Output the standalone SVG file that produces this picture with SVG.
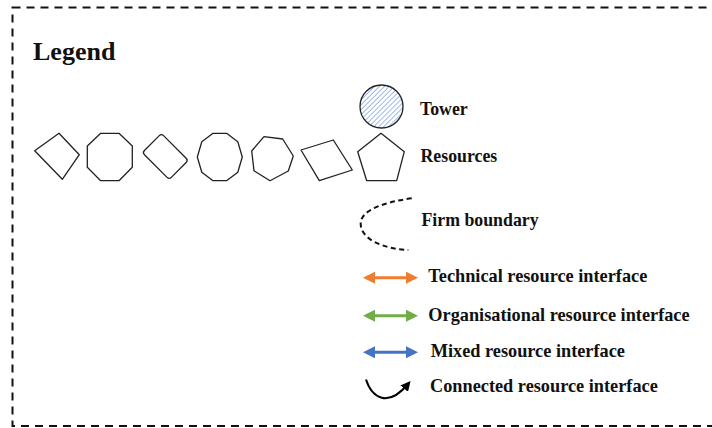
<svg xmlns="http://www.w3.org/2000/svg" width="712" height="428" viewBox="0 0 712 428">
<style>
  .lbl { font-family: "Liberation Serif", "Times New Roman", serif; font-weight: bold; font-size: 17.8px; fill: #111; }
  .if { font-size: 18.3px; }
  .shape { fill: #fff; stroke: #222; stroke-width: 1.3; stroke-linejoin: round; }
</style>
<defs>
  <pattern id="hatch" patternUnits="userSpaceOnUse" width="3.5" height="3.5" patternTransform="rotate(45)">
    <rect width="3.5" height="3.5" fill="#fff"/>
    <line x1="0" y1="0" x2="0" y2="3.5" stroke="#6f93d8" stroke-width="1.3"/>
  </pattern>
  <marker id="hO" markerWidth="4" markerHeight="4" refX="2" refY="2" orient="auto-start-reverse" markerUnits="strokeWidth" viewBox="0 0 4 4">
    <path d="M0,0 L4,2 L0,4 Z" fill="#ED7D31"/>
  </marker>
  <marker id="hG" markerWidth="4" markerHeight="4" refX="2" refY="2" orient="auto-start-reverse" markerUnits="strokeWidth" viewBox="0 0 4 4">
    <path d="M0,0 L4,2 L0,4 Z" fill="#70AD47"/>
  </marker>
  <marker id="hB" markerWidth="4" markerHeight="4" refX="2" refY="2" orient="auto-start-reverse" markerUnits="strokeWidth" viewBox="0 0 4 4">
    <path d="M0,0 L4,2 L0,4 Z" fill="#4472C4"/>
  </marker>
  <marker id="hK" markerWidth="5" markerHeight="5" refX="3" refY="2.5" orient="auto" markerUnits="strokeWidth" viewBox="0 0 5 5">
    <path d="M0,0 L5,2.5 L0,5 Z" fill="#000"/>
  </marker>
</defs>

<rect x="12.5" y="7.5" width="800" height="418.5" fill="#fff" stroke="#111" stroke-width="2" stroke-dasharray="8,6"/>

<text class="lbl" x="33" y="60" style="font-size:26px">Legend</text>

<g id="node-tower">
  <circle cx="381.5" cy="106.5" r="21.5" fill="url(#hatch)" stroke="#222" stroke-width="1.3"/>
  <text class="lbl" x="420" y="115">Tower</text>
</g>

<g id="node-resources">
  <polygon class="shape" points="34.7,150.7 59,133.3 79.3,154.7 62.3,179.3"/>
  <polygon class="shape" points="100.7,133.3 119,133.3 132.3,146 132.3,167.3 119,180.7 100.7,180.7 87.3,167.3 87.3,146"/>
  <rect class="shape" x="146.3" y="143" width="38" height="27" rx="3" transform="rotate(45 165.3 156.5)"/>
  <polygon class="shape" points="213,133.3 226.6,133.3 237.8,141.8 242.3,157 237.8,172.2 226.6,180.7 213,180.7 201.8,172.2 197.3,157 201.8,141.8"/>
  <polygon class="shape" points="251.7,151 264,136.7 282.7,139 293.3,156 288.3,171 270,180.7 254,170.7"/>
  <polygon class="shape" points="301,150 333.3,140 352.3,170 319.3,180.7"/>
  <polygon class="shape" points="381,133.3 404.3,151.7 396.7,180.7 366.7,180.7 357.7,151.7"/>
  <text class="lbl" x="420.5" y="162.3">Resources</text>
</g>

<g id="node-firm-boundary">
  <path d="M411.7,198.3 C385,202 360,210 360.7,224 C361,240 385,249 408.3,250" fill="none" stroke="#111" stroke-width="2" stroke-dasharray="5,3.5"/>
  <text class="lbl" x="421.5" y="225.7">Firm boundary</text>
</g>

<g id="connectors">
  <line x1="369" y1="277.7" x2="412" y2="277.7" stroke="#ED7D31" stroke-width="3" marker-start="url(#hO)" marker-end="url(#hO)"/>
  <line x1="369" y1="315.7" x2="412" y2="315.7" stroke="#70AD47" stroke-width="3" marker-start="url(#hG)" marker-end="url(#hG)"/>
  <line x1="369" y1="352.3" x2="412" y2="352.3" stroke="#4472C4" stroke-width="3" marker-start="url(#hB)" marker-end="url(#hB)"/>
  <path d="M366,379.5 C372,398 388,408 408,384" fill="none" stroke="#000" stroke-width="2" marker-end="url(#hK)"/>
</g>

<g id="node-labels">
  <text class="lbl if" x="428.3" y="282.3">Technical resource interface</text>
  <text class="lbl if" x="428.3" y="320.7">Organisational resource interface</text>
  <text class="lbl if" x="430.7" y="356.7">Mixed resource interface</text>
  <text class="lbl if" x="430" y="392.3">Connected resource interface</text>
</g>
</svg>
